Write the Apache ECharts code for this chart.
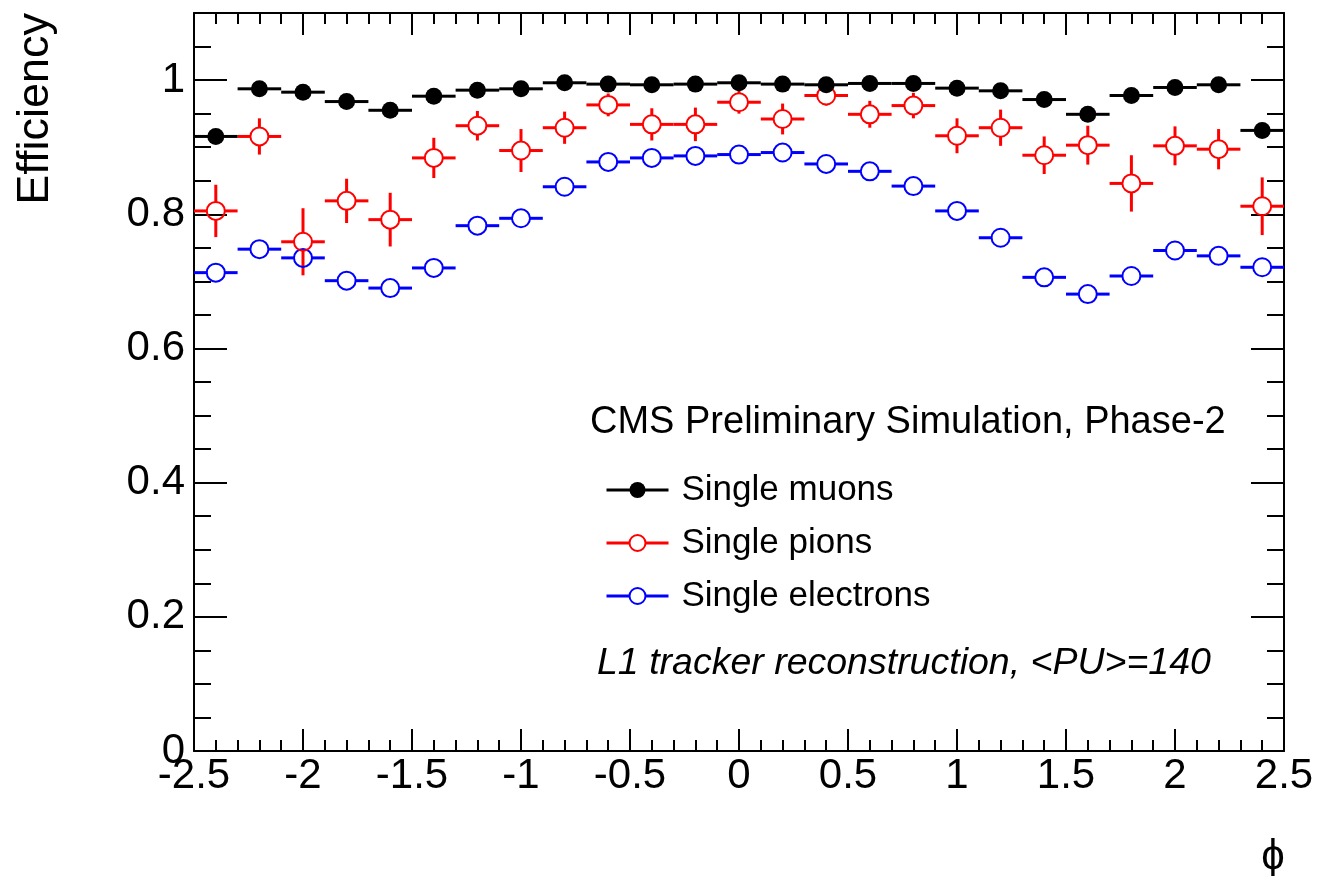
<!DOCTYPE html>
<html>
<head>
<meta charset="utf-8">
<script src="https://cdn.jsdelivr.net/npm/echarts@6/dist/echarts.min.js"></script>
<style>
html,body{margin:0;padding:0;background:#fff;}
#chart{width:1319px;height:876px;}
</style>
</head>
<body>
<div id="chart"></div>
<script>
// ---- data ----
const phiCenters = [-2.4, -2.2, -2.0, -1.8, -1.6, -1.4, -1.2, -1.0, -0.8, -0.6, -0.4, -0.2, 0.0,
                    0.2, 0.4, 0.6, 0.8, 1.0, 1.2, 1.4, 1.6, 1.8, 2.0, 2.2, 2.4];
const binHalfWidth = 0.1;
const muonEff = [0.916, 0.987, 0.982, 0.968, 0.955, 0.976, 0.985, 0.987, 0.996, 0.994, 0.993, 0.994, 0.996,
                 0.994, 0.993, 0.995, 0.995, 0.988, 0.984, 0.971, 0.949, 0.977, 0.989, 0.993, 0.925];
const muonErr = [0.006, 0.003, 0.004, 0.004, 0.005, 0.004, 0.003, 0.003, 0.002, 0.002, 0.002, 0.002, 0.002,
                 0.002, 0.002, 0.002, 0.002, 0.003, 0.003, 0.004, 0.005, 0.004, 0.003, 0.002, 0.006];
const pionEff = [0.805, 0.916, 0.759, 0.820, 0.792, 0.884, 0.932, 0.895, 0.929, 0.963, 0.934, 0.934, 0.967,
                 0.942, 0.977, 0.949, 0.962, 0.917, 0.929, 0.888, 0.903, 0.846, 0.902, 0.897, 0.812];
const pionErr = [0.039, 0.027, 0.050, 0.033, 0.040, 0.030, 0.022, 0.032, 0.024, 0.017, 0.024, 0.025, 0.017,
                 0.023, 0.015, 0.020, 0.019, 0.026, 0.027, 0.028, 0.029, 0.042, 0.029, 0.030, 0.043];
const electronEff = [0.713, 0.748, 0.735, 0.701, 0.690, 0.720, 0.783, 0.794, 0.841, 0.878, 0.884, 0.887, 0.889,
                     0.892, 0.875, 0.864, 0.842, 0.805, 0.765, 0.706, 0.681, 0.708, 0.746, 0.738, 0.721];
const electronErr = [0.005, 0.005, 0.005, 0.005, 0.005, 0.005, 0.005, 0.004, 0.004, 0.004, 0.004, 0.004, 0.004,
                     0.004, 0.004, 0.004, 0.004, 0.004, 0.005, 0.005, 0.005, 0.005, 0.005, 0.005, 0.005];
const yTickLabels = [0, 0.2, 0.4, 0.6, 0.8, 1];
const seriesNames = ['Single muons', 'Single pions', 'Single electrons'];
const headerText = 'CMS Preliminary Simulation, Phase-2';
const footerText = 'L1 tracker reconstruction, <PU>=140';
const yTitle = 'Efficiency';
const xTitle = 'ϕ';

// ---- chart ----
const FONT = 'Liberation Sans, Arial, Helvetica, sans-serif';
const RED = '#ff0000', BLUE = '#0000ff', BLACK = '#000000';

function errorBars(color, gapR) {
  return function (params, api) {
    const x = api.value(0), y = api.value(1), e = api.value(2);
    const p = api.coord([x, y]);
    const xl = api.coord([x - binHalfWidth, y])[0];
    const xr = api.coord([x + binHalfWidth, y])[0];
    const yt = api.coord([x, y + e])[1];
    const yb = api.coord([x, y - e])[1];
    const style = { stroke: color, lineWidth: 3 };
    const kids = [
      { type: 'line', shape: { x1: xl, y1: p[1], x2: p[0] - gapR, y2: p[1] }, style: style },
      { type: 'line', shape: { x1: p[0] + gapR, y1: p[1], x2: xr, y2: p[1] }, style: style }
    ];
    if (p[1] - yt > gapR) {
      kids.push({ type: 'line', shape: { x1: p[0], y1: yt, x2: p[0], y2: p[1] - gapR }, style: style });
    }
    if (yb - p[1] > gapR) {
      kids.push({ type: 'line', shape: { x1: p[0], y1: p[1] + gapR, x2: p[0], y2: yb }, style: style });
    }
    return { type: 'group', children: kids };
  };
}

function triples(eff, err) { return phiCenters.map((x, i) => [x, eff[i], err[i]]); }
function pairs(eff) { return phiCenters.map((x, i) => [x, eff[i]]); }

const tickLine = { color: BLACK, width: 2 };
const baseX = { type: 'value', min: -2.5, max: 2.5, interval: 0.5, splitLine: { show: false } };
const baseY = { type: 'value', min: 0, max: 1.1, splitLine: { show: false } };

const chart = echarts.init(document.getElementById('chart'), null, { renderer: 'canvas' });
chart.setOption({
  animation: false,
  backgroundColor: '#ffffff',
  grid: { left: 194, right: 35, top: 13, bottom: 125, containLabel: false },
  xAxis: [
    Object.assign({}, baseX, {
      position: 'bottom',
      axisLine: { show: true, onZero: false, lineStyle: tickLine },
      axisTick: { show: true, inside: true, length: 22, lineStyle: tickLine },
      minorTick: { show: true, splitNumber: 5, length: 11, lineStyle: tickLine },
      axisLabel: { show: true, fontSize: 42, fontFamily: FONT, color: BLACK, margin: 4,
                   showMinLabel: true, showMaxLabel: true }
    }),
    Object.assign({}, baseX, {
      position: 'top',
      axisLine: { show: true, onZero: false, lineStyle: tickLine },
      axisTick: { show: true, inside: true, length: 22, lineStyle: tickLine },
      minorTick: { show: true, splitNumber: 5, length: 11, lineStyle: tickLine },
      axisLabel: { show: false }
    })
  ],
  yAxis: [
    Object.assign({}, baseY, {
      position: 'left', interval: 0.2,
      axisLine: { show: true, onZero: false, lineStyle: tickLine },
      axisTick: { show: true, inside: true, length: 33, lineStyle: tickLine },
      axisLabel: {
        show: true, fontSize: 42, fontFamily: FONT, color: BLACK, margin: 9,
        showMinLabel: true, showMaxLabel: true,
        formatter: function (v) {
          const hit = yTickLabels.find(t => Math.abs(t - v) < 1e-6);
          return hit === undefined ? '' : String(hit);
        }
      }
    }),
    Object.assign({}, baseY, {
      position: 'left', interval: 0.05,
      axisLine: { show: false, onZero: false },
      axisTick: { show: true, inside: true, length: 17, lineStyle: tickLine },
      axisLabel: { show: false }
    }),
    Object.assign({}, baseY, {
      position: 'right', interval: 0.2,
      axisLine: { show: true, onZero: false, lineStyle: tickLine },
      axisTick: { show: true, inside: true, length: 33, lineStyle: tickLine },
      axisLabel: { show: false }
    }),
    Object.assign({}, baseY, {
      position: 'right', interval: 0.05,
      axisLine: { show: false, onZero: false },
      axisTick: { show: true, inside: true, length: 17, lineStyle: tickLine },
      axisLabel: { show: false }
    })
  ],
  legend: {
    orient: 'vertical', left: 600, top: 465,
    itemWidth: 62, itemHeight: 20, itemGap: 13,
    selectedMode: false,
    lineStyle: { width: 3 },
    textStyle: { fontSize: 35, fontFamily: FONT, color: BLACK, lineHeight: 40, padding: [0, 0, 0, 8] },
    data: seriesNames
  },
  graphic: [
    { type: 'text', x: 36, y: 13, rotation: Math.PI / 2,
      style: { text: yTitle, fontSize: 45, fontFamily: FONT, fill: BLACK, align: 'right', verticalAlign: 'middle' } },
    { type: 'text', x: 1273, y: 857,
      style: { text: xTitle, fontSize: 42, fontFamily: FONT, fill: BLACK, align: 'center', verticalAlign: 'middle' } },
    { type: 'text', x: 590, y: 423,
      style: { text: headerText, fontSize: 38, fontFamily: FONT, fill: BLACK, align: 'left', verticalAlign: 'middle' } },
    { type: 'text', x: 597, y: 664,
      style: { text: footerText, fontSize: 37.5, fontStyle: 'italic', fontFamily: FONT, fill: BLACK, align: 'left', verticalAlign: 'middle' } }
  ],
  series: [
    // legend-only entries
    { name: seriesNames[0], type: 'line', data: [], symbol: 'circle', symbolSize: 14,
      itemStyle: { color: BLACK }, lineStyle: { color: BLACK, width: 3 } },
    { name: seriesNames[1], type: 'line', data: [], symbol: 'emptyCircle', symbolSize: 14,
      itemStyle: { color: RED }, lineStyle: { color: RED, width: 3 } },
    { name: seriesNames[2], type: 'line', data: [], symbol: 'emptyCircle', symbolSize: 14,
      itemStyle: { color: BLUE }, lineStyle: { color: BLUE, width: 3 } },
    // error bars
    { type: 'custom', renderItem: errorBars(BLUE, 9), data: triples(electronEff, electronErr),
      encode: { x: 0, y: 1 }, silent: true, z: 2 },
    { type: 'custom', renderItem: errorBars(RED, 9), data: triples(pionEff, pionErr),
      encode: { x: 0, y: 1 }, silent: true, z: 2 },
    { type: 'custom', renderItem: errorBars(BLACK, 7), data: triples(muonEff, muonErr),
      encode: { x: 0, y: 1 }, silent: true, z: 2 },
    // markers
    { type: 'scatter', data: pairs(electronEff), symbol: 'circle', symbolSize: 18, silent: true, z: 3,
      itemStyle: { color: 'rgba(0,0,0,0)', borderColor: BLUE, borderWidth: 2, opacity: 1 } },
    { type: 'scatter', data: pairs(pionEff), symbol: 'circle', symbolSize: 18, silent: true, z: 3,
      itemStyle: { color: 'rgba(0,0,0,0)', borderColor: RED, borderWidth: 2, opacity: 1 } },
    { type: 'scatter', data: pairs(muonEff), symbol: 'circle', symbolSize: 17, silent: true, z: 4,
      itemStyle: { color: BLACK, opacity: 1 } }
  ]
});
</script>
</body>
</html>
